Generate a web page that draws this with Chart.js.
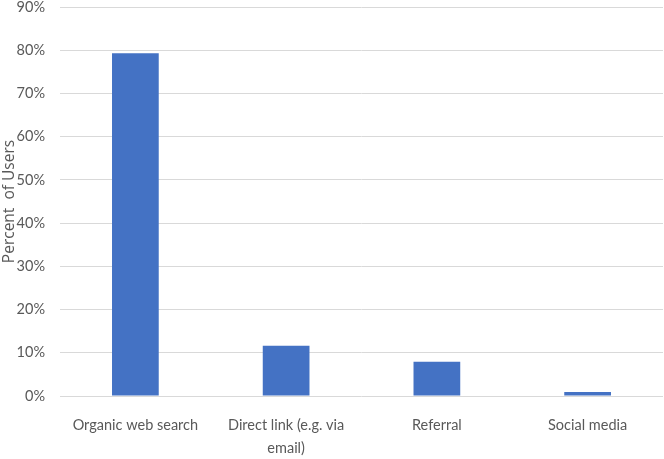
<!DOCTYPE html>
<html><head><meta charset="utf-8">
<script src="https://cdn.jsdelivr.net/npm/chart.js@4"></script>
<style>html,body{margin:0;padding:0;background:#fff;}#wrap{width:664px;height:459px;}</style>
</head><body><div id="wrap"><canvas id="c" width="664" height="459"></canvas></div>
<script>
const categories = [["Organic web search"], ["Direct link (e.g. via", "email)"], ["Referral"], ["Social media"]];
const percentUsers = [79.3, 11.6, 7.9, 0.9];
const yTickValues = [0,10,20,30,40,50,60,70,80,90];
const yTitle = "Percent  of Users";

const font = {family: "Lato, 'Open Sans', sans-serif", size: 14.5};
const xfont = {family: "Lato, 'Open Sans', sans-serif", size: 14.5, lineHeight: 1.6};
new Chart(document.getElementById('c'), {
  type: 'bar',
  data: {labels: categories, datasets: [{data: percentUsers, backgroundColor: '#4472C4', barPercentage: 0.31, categoryPercentage: 1}]},
  options: {
    responsive: false, animation: false,
    layout: {padding: {top: 7, right: 1, left: 0, bottom: 0}},
    plugins: {legend: {display: false}, tooltip: {enabled: false}},
    scales: {
      x: {
        grid: {display: false, drawTicks: false},
        border: {display: false},
        ticks: {color: '#595959', font: xfont, padding: 18, maxRotation: 0, autoSkip: false},
        afterFit: s => { s.height = 63; s.paddingLeft = 0; s.paddingRight = 0; s.paddingTop = 0; s.paddingBottom = 0; }
      },
      y: {
        min: 0, max: 90,
        afterBuildTicks: s => { s.ticks = yTickValues.map(v => ({value: v})); },
        grid: {color: '#d9d9d9', lineWidth: 1, drawTicks: false},
        border: {display: false},
        ticks: {color: '#595959', font: font, padding: 15, callback: v => v + '%'},
        title: {display: true, text: yTitle, color: '#595959', font: {family: "'Open Sans', sans-serif", size: 15.5}, padding: 0},
        afterFit: s => { s.width = 60; s.paddingTop = 0; s.paddingBottom = 0; }
      }
    }
  }
});
</script></body></html>
